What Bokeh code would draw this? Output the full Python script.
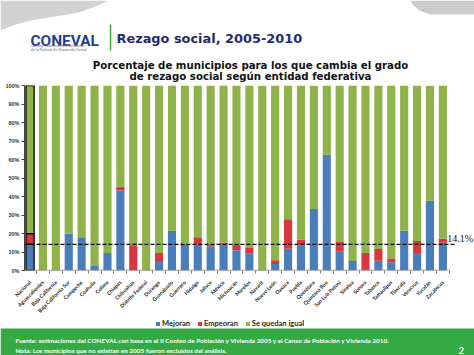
import numpy as np
from bokeh.plotting import figure
from bokeh.models import (ColumnDataSource, FixedTicker, PrintfTickFormatter,
                          Legend, LegendItem, Range1d)
from bokeh.layouts import column
from bokeh.core.properties import value
from bokeh.embed import file_html
from bokeh.resources import INLINE

# ---------------- data ----------------
estados = ["Nacional", "Aguascalientes", "Baja California", "Baja California Sur",
           "Campeche", "Coahuila", "Colima", "Chiapas", "Chihuahua", "Distrito Federal",
           "Durango", "Guanajuato", "Guerrero", "Hidalgo", "Jalisco", "México",
           "Michoacán", "Morelos", "Nayarit", "Nuevo León", "Oaxaca", "Puebla",
           "Querétaro", "Quintana Roo", "San Luis Potosí", "Sinaloa", "Sonora",
           "Tabasco", "Tamaulipas", "Tlaxcala", "Veracruz", "Yucatán", "Zacatecas"]
mejoran = [14.1, 0, 0, 20.0, 18.0, 2.5, 9.5, 43.2, 0, 0, 5.1, 21.5, 13.9, 13.9,
           13.0, 13.9, 10.9, 9.0, 0, 3.5, 11.8, 13.6, 33.3, 62.6, 10.1, 5.1, 0,
           5.3, 4.4, 21.5, 9.5, 37.7, 15.0]
empeoran = [5.8, 0, 0, 0, 0, 0, 0, 2.1, 13.6, 0, 4.4, 0, 0.7, 4.1, 1.1, 1.3, 2.9,
            3.2, 0, 2.1, 15.9, 3.0, 0, 0, 5.3, 0, 9.5, 6.3, 2.1, 0, 6.4, 0, 2.1]
referencia_nacional = 14.1
y_ticks = [0, 10, 20, 30, 40, 50, 60, 70, 80, 90, 100]
series_names = ["Mejoran", "Empeoran", "Se quedan igual"]
colors = ["#4A7EBB", "#D9363E", "#8FB24B"]

titulo = "Rezago social, 2005-2010"
subtitulo = ["Porcentaje de municipios para los que cambia el grado",
             "de rezago social según entidad federativa"]
fuente = ["Fuente: estimaciones del CONEVAL con base en  el  II Conteo de Población y Vivienda 2005 y el Censo de Población y Vivienda 2010.",
          "Nota: Los municipios que no existían  en 2005 fueron excluidos del análisis."]

n = len(estados)
igual = [round(100 - m - e, 1) for m, e in zip(mejoran, empeoran)]

W = 474
H_HEAD = 82
H_FOOT = 37
H_CHART = 355 - H_HEAD - H_FOOT


def no_align(fig):
    if "frame_align" in fig.properties():
        fig.frame_align = False


def canvas(h, bg="white"):
    f = figure(width=W, height=h, x_range=Range1d(0, W), y_range=Range1d(h, 0),
               output_backend="svg", toolbar_location=None, min_border=0, title=None,
               x_axis_location=None, y_axis_location=None)
    f.grid.visible = False
    f.outline_line_color = None
    f.background_fill_color = bg
    f.border_fill_color = bg
    no_align(f)
    return f


# ---------------- header ----------------
head = canvas(H_HEAD)
head.patch([0, 108, 95, 78, 55, 30, 12, 0], [0, 0, 6, 12, 16, 20, 25, 30],
           fill_color="#D2D2D2", line_color=None)
head.patch([410, 474, 474, 430, 419, 412], [0, 0, 14, 14, 10, 4],
           fill_color="#CBCBCB", line_color=None)

head.text(x=[30], y=[40], text=["CONEVAL"], text_font=value("Roboto"),
          text_font_style="bold", text_font_size="15.4px", text_color="#1F3F8F",
          text_baseline="alphabetic")
head.text(x=[30, 30], y=[44.5, 49], text=["Consejo Nacional de Evaluación",
                                          "de la Política de Desarrollo Social"],
          text_font=value("Roboto"), text_font_size="3.8px", text_color="#777777",
          text_baseline="alphabetic")
head.segment(x0=[110], y0=[24], x1=[110], y1=[50], line_color="#3BAA35", line_width=1.5)
head.text(x=[116], y=[38], text=[titulo], text_font=value("DejaVu Sans"),
          text_font_style="bold", text_font_size="12.9px", text_color="#1F2D6E",
          text_baseline="alphabetic")
head.text(x=[250, 250], y=[65, 76], text=subtitulo, text_font=value("DejaVu Sans"),
          text_font_style="bold", text_font_size="10.2px", text_color="#111111",
          text_align="center", text_baseline="alphabetic")

# ---------------- chart ----------------
src = ColumnDataSource(dict(x=list(range(n)), Mejoran=mejoran, Empeoran=empeoran, Igual=igual))
p = figure(width=W, height=H_CHART, x_range=Range1d(-0.43, 34.45), y_range=Range1d(0, 100),
           output_backend="svg", toolbar_location=None, title=None,
           min_border_left=24, min_border_right=0, min_border_top=85 - H_HEAD,
           min_border_bottom=H_CHART - (274 - H_HEAD))
no_align(p)
p.grid.visible = False
p.outline_line_color = None
p.background_fill_color = "white"
p.border_fill_color = "white"

rs = p.vbar_stack(["Mejoran", "Empeoran", "Igual"], x="x", width=0.63,
                  fill_color=colors, line_color=None, source=src)

i_nac = estados.index("Nacional")
m0, e0 = mejoran[i_nac], empeoran[i_nac]
p.vbar(x=[i_nac] * 3, bottom=[0, m0, m0 + e0], top=[m0, m0 + e0, 100], width=0.63,
       fill_color=None, line_color="black", line_width=1.3)

# x axis baseline
p.segment(x0=[-0.5], y0=[0], x1=[n - 0.5], y1=[0], line_color="#7F7F7F", line_width=1.5)

# reference dashed line
p.segment(x0=[p.x_range.start], y0=[referencia_nacional], x1=[n], y1=[referencia_nacional],
          line_color="black", line_width=1.3, line_dash="4 2")
p.text(x=[n - 1 + 0.33], y=[referencia_nacional + 3.2], text=[f"{referencia_nacional}%"],
       text_font=value("Liberation Serif"), text_font_size="10px", text_color="#111111",
       text_baseline="alphabetic")

p.xaxis.ticker = FixedTicker(ticks=list(range(n)), minor_ticks=[i - 0.5 for i in range(n + 1)])
p.xaxis.major_label_overrides = {i: name for i, name in enumerate(estados)}
p.xaxis.major_label_orientation = np.pi / 4
p.xaxis.axis_line_color = None
p.xaxis.major_tick_line_color = None
p.xaxis.major_tick_out = 0
p.xaxis.major_tick_in = 0
p.xaxis.minor_tick_line_color = "#7F7F7F"
p.xaxis.minor_tick_out = 3
p.xaxis.minor_tick_in = 0
p.xaxis.major_label_standoff = 8
p.xaxis.major_label_text_font = "Lato"
p.xaxis.major_label_text_font_style = "bold"
p.xaxis.major_label_text_font_size = "5.2px"
p.xaxis.major_label_text_color = "#222222"

p.yaxis.ticker = FixedTicker(ticks=y_ticks)
p.yaxis.formatter = PrintfTickFormatter(format="%d%%")
p.yaxis.axis_line_color = "#404040"
p.yaxis.major_tick_line_color = "#404040"
p.yaxis.major_tick_out = 3
p.yaxis.major_tick_in = 0
p.yaxis.minor_tick_line_color = None
p.yaxis.major_label_standoff = 2
p.yaxis.major_label_text_font = "Liberation Sans"
p.yaxis.major_label_text_font_style = "bold"
p.yaxis.major_label_text_font_size = "5.5px"
p.yaxis.major_label_text_color = "#333333"

# ---------------- footer (legend + source band) ----------------
foot = canvas(H_FOOT)
foot.quad(left=[0], right=[W], top=[10], bottom=[H_FOOT], fill_color="#35A944", line_color=None)
# zero-height stand-in bars that carry the legend swatches of the three series
leg_rs = [foot.vbar(x=[0], top=[0], bottom=[0], width=0, fill_color=c, line_color=None)
          for c in colors]
legend = Legend(items=[LegendItem(label=nm, renderers=[r]) for nm, r in zip(series_names, leg_rs)],
                location=(155, 27), orientation="horizontal", glyph_width=5, glyph_height=5,
                label_standoff=2, spacing=7, padding=0, margin=0, label_height=6,
                label_text_font="Lato", label_text_font_style="bold",
                label_text_font_size="7.5px", label_text_color="#262626",
                border_line_color=None, background_fill_alpha=0)
foot.add_layout(legend)
foot.text(x=[15, 15], y=[21.5, 31.5], text=fuente, text_font=value("Lato"),
          text_font_style="bold", text_font_size="6.4px", text_color="white",
          text_baseline="alphabetic")
foot.text(x=[458], y=[32], text=["2"], text_font=value("Lato"), text_font_style="bold",
          text_font_size="9.5px", text_color="white", text_baseline="alphabetic")

layout = column(head, p, foot, spacing=0)
open("out.html", "w").write(file_html(layout, INLINE))
